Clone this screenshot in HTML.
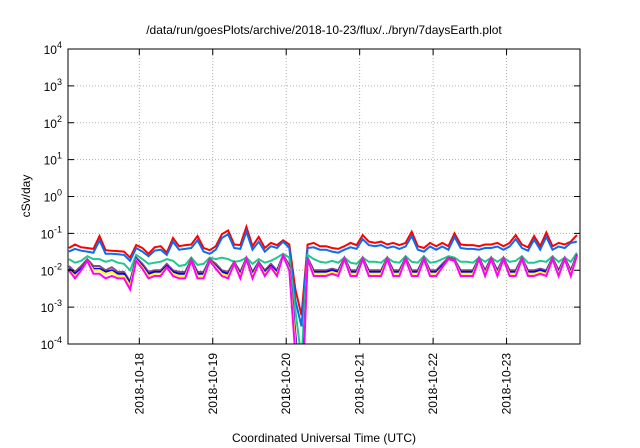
<!DOCTYPE html>
<html><head><meta charset="utf-8"><style>
html,body{margin:0;padding:0;background:#fff;}
svg{display:block;font-family:"Liberation Sans",sans-serif;}
</style></head><body>
<svg id="chart" width="640" height="448" viewBox="0 0 640 448" xmlns="http://www.w3.org/2000/svg">
<text x="324" y="34" font-size="12" text-anchor="middle" fill="#000">/data/run/goesPlots/archive/2018-10-23/flux/../bryn/7daysEarth.plot</text>
<g id="grid"></g>
<g id="series" clip-path="url(#clip)"></g>
<g id="axes"></g>
<defs><clipPath id="clip"><rect x="68" y="49" width="512" height="295"/></clipPath></defs>
<text transform="translate(30,196) rotate(-90)" font-size="12" text-anchor="middle" fill="#000">cSv/day</text>
<text x="324" y="442" font-size="12" text-anchor="middle" fill="#000">Coordinated Universal Time (UTC)</text>
</svg>
<script>
const yExponents = [-4,-3,-2,-1,0,1,2,3,4];
const xTickLabels = ["2018-10-18","2018-10-19","2018-10-20","2018-10-21","2018-10-22","2018-10-23"];
const xTickHours = [24,48,72,96,120,144];
const sampleHours = [];
for (let i = 0; i < 84; i++) sampleHours.push(1 + 2*i);
const red = [.040,.050,.042,.040,.038,.085,.035,.034,.033,.032,
.022,.048,.040,.028,.042,.045,.030,.075,.045,.048,
.050,.085,.040,.035,.045,.095,.120,.050,.048,.150,
.045,.080,.040,.055,.048,.065,.050,.003,.0006,
.050,.055,.045,.045,.040,.038,.045,.055,.048,.090,.060,
.055,.060,.050,.055,.048,.055,.110,.045,.040,.055,
.045,.055,.045,.100,.050,.048,.048,.045,.050,.050,
.055,.045,.055,.090,.050,.042,.085,.045,.105,.045,
.055,.050,.060,.090];
const lightBlue = [.032,.038,.034,.032,.030,.065,.028,.028,.027,.026,
.018,.040,.032,.024,.034,.036,.026,.060,.036,.038,
.040,.065,.032,.028,.036,.075,.095,.040,.038,.110,
.036,.060,.032,.045,.040,.060,.040,.0015,.0003,
.040,.042,.036,.036,.032,.030,.036,.042,.038,.070,.048,
.045,.048,.040,.044,.038,.044,.085,.036,.032,.044,
.036,.044,.036,.080,.040,.038,.038,.036,.040,.040,
.044,.036,.044,.070,.040,.034,.068,.036,.080,.036,
.044,.040,.055,.060];
const teal = [.020,.016,.018,.024,.020,.020,.017,.019,.016,.015,
.010,.026,.020,.015,.016,.017,.020,.018,.013,.014,
.022,.014,.015,.022,.020,.022,.020,.017,.018,.022,
.015,.020,.016,.018,.022,.028,.022,.0008,.00004,
.026,.020,.017,.016,.018,.016,.022,.016,.015,.022,.017,
.017,.016,.022,.017,.016,.024,.017,.016,.024,.016,
.017,.020,.024,.022,.017,.017,.016,.022,.017,.022,
.017,.022,.017,.018,.024,.016,.016,.018,.017,.024,
.017,.022,.017,.030];
const purple = [.013,.009,.013,.020,.013,.013,.010,.012,.009,.009,
.005,.022,.015,.009,.010,.010,.015,.010,.009,.009,
.020,.009,.009,.020,.015,.010,.009,.017,.009,.022,
.009,.017,.010,.015,.010,.026,.014,.0002,.000002,
.022,.010,.010,.010,.011,.010,.022,.010,.010,.022,.010,
.010,.010,.022,.010,.010,.022,.010,.010,.022,.010,
.010,.015,.022,.020,.010,.010,.010,.022,.010,.022,
.010,.022,.010,.010,.022,.010,.010,.011,.010,.022,
.010,.022,.010,.027];
const blue = [.011,.008,.011,.018,.011,.011,.009,.010,.008,.008,
.0045,.020,.013,.008,.009,.009,.013,.009,.008,.008,
.018,.008,.008,.018,.013,.009,.008,.015,.008,.020,
.008,.015,.009,.013,.009,.025,.012,.00015,.000002,
.020,.009,.009,.009,.010,.009,.020,.009,.009,.020,.009,
.009,.009,.020,.009,.009,.020,.009,.009,.020,.009,
.009,.013,.020,.018,.009,.009,.009,.020,.009,.020,
.009,.020,.009,.009,.020,.009,.009,.010,.009,.020,
.009,.020,.009,.026];
const yellow = [.010,.007,.010,.018,.010,.010,.008,.009,.007,.007,
.0038,.019,.012,.007,.008,.008,.012,.008,.007,.007,
.018,.007,.007,.018,.012,.008,.007,.015,.007,.020,
.007,.015,.008,.012,.008,.025,.011,.0001,.000001,
.020,.008,.008,.008,.009,.008,.020,.008,.008,.020,.008,
.008,.008,.020,.008,.008,.020,.008,.008,.020,.008,
.008,.012,.020,.018,.008,.008,.008,.020,.008,.020,
.008,.020,.008,.008,.020,.008,.008,.009,.008,.020,
.008,.020,.008,.025];
const magenta = [.010,.006,.010,.018,.008,.008,.006,.007,.006,.006,
.003,.018,.011,.006,.007,.007,.012,.007,.006,.006,
.018,.006,.006,.018,.011,.007,.006,.015,.006,.020,
.006,.015,.007,.012,.007,.025,.010,.00005,.000001,
.020,.007,.007,.007,.008,.007,.020,.007,.007,.020,.007,
.007,.007,.020,.007,.007,.020,.007,.007,.020,.007,
.007,.012,.020,.018,.007,.007,.007,.020,.007,.020,
.007,.020,.007,.007,.020,.007,.007,.008,.007,.020,
.007,.020,.007,.025];
const seriesList = [
 {name:"red",data:red,color:"#ff0000"},
 {name:"light-blue",data:lightBlue,color:"#0a6cf0"},
 {name:"teal",data:teal,color:"#1ec890"},
 {name:"purple",data:purple,color:"#8a4a7a"},
 {name:"blue",data:blue,color:"#0000ee"},
 {name:"yellow",data:yellow,color:"#ffff00"},
 {name:"magenta",data:magenta,color:"#ff00ff"}
];
const NS="http://www.w3.org/2000/svg";
const L=68,R=580,T=49,B=344;
const xMin=0.7,xMax=168;
function xScale(h){return L+(h-xMin)/(xMax-xMin)*(R-L);}
function yScale(v){const lv=Math.log10(Math.max(v,1e-9));return B-(lv+4)/8*(B-T);}
function mk(tag,attrs,parent){const e=document.createElementNS(NS,tag);for(const k in attrs)e.setAttribute(k,attrs[k]);parent.appendChild(e);return e;}
const grid=document.getElementById('grid'),axes=document.getElementById('axes'),sg=document.getElementById('series');
yExponents.forEach(ex=>{
 const y=yScale(Math.pow(10,ex));
 if(ex>-4&&ex<4){const g=mk('line',{x1:L,x2:R,y1:y,y2:y,stroke:"#b0b0b0","stroke-width":1,"stroke-dasharray":"1,2"},grid);
 
 }
 const t1=mk('line',{x1:L,x2:L+6,y1:y,y2:y,stroke:"#000"},axes);
 
 
 const t2=mk('line',{x1:R-6,x2:R,y1:y,y2:y,stroke:"#000"},axes);
 
 
 const tx=mk('text',{x:L-6,y:y+5,"font-size":12,"text-anchor":"end",fill:"#000"},axes);
 
 
 tx.appendChild(document.createTextNode("10"));
 const sup=mk('tspan',{dy:-6,"font-size":9},tx);sup.textContent=String(ex);
});
xTickHours.forEach((h,i)=>{
 const x=xScale(h);
 const g=mk('line',{x1:x,x2:x,y1:T,y2:B,stroke:"#b0b0b0","stroke-width":1,"stroke-dasharray":"1,2"},grid);
 
 
 const t1=mk('line',{x1:x,x2:x,y1:B-6,y2:B,stroke:"#000"},axes);
 
 
 const t2=mk('line',{x1:x,x2:x,y1:T,y2:T+6,stroke:"#000"},axes);
 
 
 const tx=mk('text',{transform:`translate(${x+4},353) rotate(-90)`,"font-size":12,"text-anchor":"end",fill:"#000"},axes);
 
 
 tx.textContent=xTickLabels[i];
});
seriesList.forEach(s=>{
 const pts=s.data.map((v,i)=>xScale(sampleHours[i]).toFixed(1)+","+yScale(v).toFixed(1)).join(" ");
 const p=mk('polyline',{points:pts,fill:"none",stroke:s.color,"stroke-width":2,"stroke-linejoin":"miter"},sg);
 
 
});
const frame=mk('rect',{x:L,y:T,width:R-L,height:B-T,fill:"none",stroke:"#000","stroke-width":1},axes);


</script>
</body></html>
